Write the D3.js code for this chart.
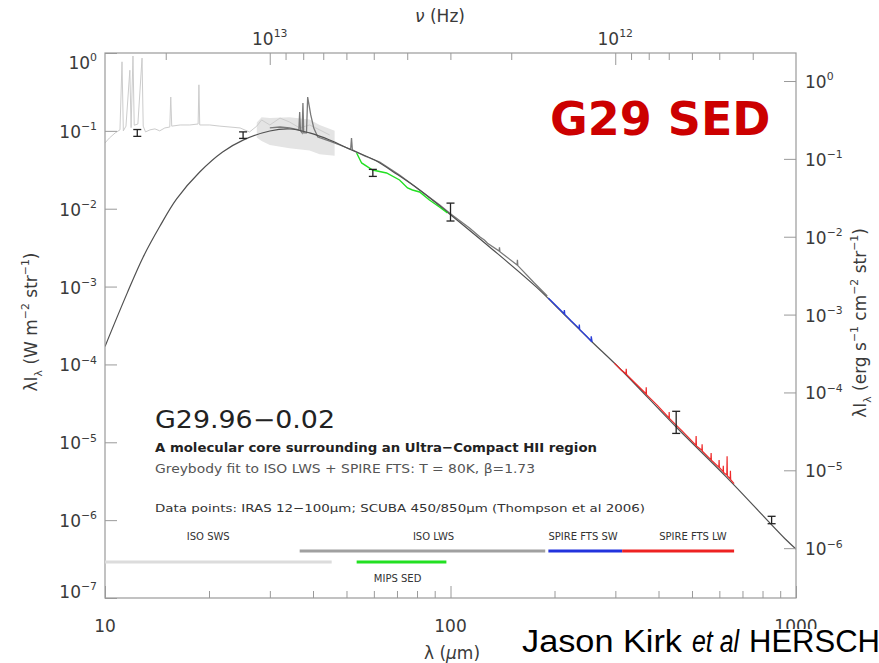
<!DOCTYPE html>
<html>
<head>
<meta charset="utf-8">
<script src="https://cdn.jsdelivr.net/npm/d3@7"></script>
<style>
  body { margin: 0; background: #fff; }
  svg text { font-family: "DejaVu Sans", sans-serif; }
</style>
</head>
<body>
<div id="chart"></div>
<script>
// ---- values (lambda in um, lambda*I_lambda in W m^-2 sr^-1)
const wavelengthMajor = [10, 100, 1000];
const wavelengthMinor = [20, 30, 40, 50, 60, 70, 80, 90, 200, 300, 400, 500, 600, 700, 800, 900];
const frequencyMajor = [1e13, 1e12];
const frequencyMinor = [2e13, 9e12, 8e12, 7e12, 6e12, 5e12, 4e12, 3e12, 2e12, 9e11, 8e11, 7e11, 6e11, 5e11, 4e11];
const fluxTicksLeft = [1e0, 1e-1, 1e-2, 1e-3, 1e-4, 1e-5, 1e-6, 1e-7];
const fluxTicksRight = [1e0, 1e-1, 1e-2, 1e-3, 1e-4, 1e-5, 1e-6];

const greybodyFit = [
  [10.0, 1.7e-4], [11.6, 8.3e-4], [12.9, 2.4e-3], [14.4, 5.9e-3], [16.1, 1.33e-2],
  [18.8, 2.96e-2], [21.9, 5.35e-2], [25.1, 7.6e-2], [30.0, 9.96e-2], [34.3, 0.1057],
  [39.1, 0.094], [44.7, 0.0763], [51.7, 0.0568], [60.3, 0.0422], [69.8, 0.0279],
  [81.4, 0.0174], [99.4, 8.55e-3], [130, 3.2e-3], [177, 9.9e-4], [211, 4.6e-4],
  [257, 1.94e-4], [308, 9.0e-5], [450, 1.57e-5], [628, 3.6e-6], [936, 5.6e-7], [1000, 4.26e-7]
];

const isoSws = [
  [10.0, 0.070], [10.3, 0.081], [10.7, 0.094], [11.05, 0.103], [11.2, 0.77], [11.3, 0.100],
  [11.5, 0.115], [11.8, 0.60], [11.9, 0.110], [12.05, 0.915], [12.15, 0.118], [12.45, 0.1225],
  [12.8, 0.86], [12.9, 0.115], [13.1, 0.097], [13.5, 0.103], [13.95, 0.106], [14.4, 0.100],
  [14.9, 0.109], [15.4, 0.112], [15.5, 0.272], [15.6, 0.115], [16.5, 0.119], [17.6, 0.119],
  [18.6, 0.1225], [18.7, 0.39], [18.8, 0.119], [20.1, 0.119], [21.5, 0.115], [23.0, 0.112],
  [24.6, 0.109], [26.2, 0.0967], [27.5, 0.115], [28.4, 0.138], [30.0, 0.119], [32.1, 0.146],
  [34.2, 0.130], [36.6, 0.109], [39.1, 0.119], [41.8, 0.103], [44.7, 0.0885]
];
// [lambda, low, high] of the noisy grey band
const isoSwsBand = [
  [27.5, 0.082, 0.128], [28.4, 0.074, 0.150], [30.0, 0.066, 0.146], [34.2, 0.060, 0.150],
  [39.1, 0.056, 0.140], [41.8, 0.050, 0.119], [46.2, 0.048, 0.100]
];

const isoLws = [
  [30.0, 0.109], [32.1, 0.112], [34.2, 0.109], [36.4, 0.1026], [36.6, 0.175], [36.8, 0.100],
  [37.2, 0.094], [37.4, 0.228], [37.6, 0.094], [38.3, 0.094], [38.6, 0.272], [39.4, 0.160],
  [40.2, 0.109], [41.3, 0.0834], [44.7, 0.074], [47.8, 0.0658], [51.4, 0.058], [51.7, 0.081],
  [52.0, 0.057], [56.4, 0.0475], [62.4, 0.0398], [71.2, 0.0271], [81.4, 0.0174], [92.9, 0.0112],
  [100, 0.0086], [113.5, 5.65e-3], [122, 4.3e-3], [125.3, 3.96e-3], [128, 3.6e-3], [138.3, 2.86e-3],
  [138.6, 3.2e-3], [139, 2.8e-3], [155.9, 1.89e-3], [156.2, 2.2e-3], [156.6, 1.86e-3],
  [174.9, 1.11e-3], [190.6, 7.56e-4]
];

const mipsSed = [
  [53.5, 0.052], [55.3, 0.0387], [59.5, 0.0314], [65.3, 0.0288], [71.2, 0.0234], [75.1, 0.01846],
  [77.6, 0.0174], [81.4, 0.0164], [86.9, 0.01294], [92.9, 0.01052], [98.0, 8.81e-3]
];

const spireSw = [
  [191.9, 7.13e-4], [201.2, 5.80e-4], [213.0, 4.5e-4], [213.6, 5.0e-4], [214.2, 4.4e-4],
  [223.7, 3.61e-4], [235.5, 2.9e-4], [236, 3.25e-4], [236.5, 2.82e-4], [248.9, 2.25e-4],
  [255, 2.0e-4], [255.5, 2.3e-4], [257, 1.94e-4]
];

const spireLw = [
  [297.8, 1.04e-4], [312, 8.48e-5], [322, 7.6e-5], [322.6, 8.8e-5], [323.2, 7.45e-5],
  [340.4, 5.9e-5], [368, 4.2e-5], [368.6, 5.1e-5], [369.2, 4.1e-5], [396.3, 3.0e-5],
  [429, 2.05e-5], [429.5, 2.45e-5], [430, 2.03e-5], [468.1, 1.4e-5], [513, 9.2e-6],
  [514, 1.2e-5], [515, 9.0e-6], [534, 7.9e-6], [534.9, 9.4e-6], [535.8, 7.7e-6],
  [567, 6.0e-6], [568, 7.3e-6], [569, 5.9e-6], [598, 4.8e-6], [599, 5.9e-6], [600, 4.75e-6],
  [615, 4.2e-6], [616, 5.0e-6], [617, 4.1e-6],
  [630.5, 3.8e-6], [631.8, 6.6e-6], [633, 3.7e-6], [645, 3.4e-6], [646, 4.3e-6], [647, 3.3e-6], [662, 2.95e-6]
];

// IRAS 12/25/60/100 um, SCUBA 450/850 um
const photometry = [
  { lambda: 12.4, value: 0.094, lo: 0.085, hi: 0.104 },
  { lambda: 25.1, value: 0.088, lo: 0.080, hi: 0.097 },
  { lambda: 59.6, value: 0.029, lo: 0.026, hi: 0.032 },
  { lambda: 100, value: 0.0091, lo: 0.00695, hi: 0.0118 },
  { lambda: 450, value: 1.8e-5, lo: 1.3e-5, hi: 2.5e-5 },
  { lambda: 850, value: 1.0e-6, lo: 0.90e-6, hi: 1.12e-6 }
];

const instruments = ["ISO SWS", "ISO LWS", "SPIRE FTS SW", "SPIRE FTS LW", "MIPS SED"];
const coverageFrom = [10, 36.6, 192, 314, 53.5];
const coverageTo = [45.3, 188, 314, 662, 97.3];

// ---- layout / style
const instrumentStyle = {
  "ISO SWS": { color: "#dcdcdc", row: 1, labelAt: 19.9, labelRow: 0 },
  "ISO LWS": { color: "#a0a0a0", row: 0, labelAt: 89.3, labelRow: 0 },
  "SPIRE FTS SW": { color: "#2233dd", row: 0, labelAt: 242, labelRow: 0 },
  "SPIRE FTS LW": { color: "#ee2222", row: 0, labelAt: 503, labelRow: 0 },
  "MIPS SED": { color: "#22e022", row: 1, labelAt: 70.3, labelRow: 1 }
};

const C_UM = 2.998e14; // c in um/s

class SedGraph {
  constructor(graphId) {
    this.graph = "#" + graphId;
    this.size = { width: 879, height: 663 };
    this.frame = { left: 105, right: 796, top: 53, bottom: 598 };
    this.scale = {};
    this.tick = { major: 12, minor: 7, color: "#9a9a9a" };
  }

  initialize() {
    this.createSvg();
    this.createScales();
    this.createAxis();
    this.replot();
    this.drawAnnotations();
  }

  createSvg() {
    this.svg = d3.select(this.graph).append("svg")
      .attr("width", this.size.width)
      .attr("height", this.size.height);
    const { left, right, top, bottom } = this.frame;
    this.svg.append("defs").append("clipPath").attr("id", "plotClip")
      .append("rect")
      .attr("x", left).attr("y", top)
      .attr("width", right - left).attr("height", bottom - top);
    this.canvas = this.svg.append("g").attr("clip-path", "url(#plotClip)");
  }

  createScales() {
    const { left, right, top, bottom } = this.frame;
    this.scale.x = d3.scaleLog().domain([10, 1000]).range([left, right]);
    this.scale.nu = d3.scaleLog().domain([C_UM / 10, C_UM / 1000]).range([left, right]);
    this.scale.y = d3.scaleLog().domain([1e-7, 1]).range([bottom, top]);
    // right hand axis is offset from the left one in the original plot
    this.scale.yRight = d3.scaleLog().domain([2.29e-7, 2.29]).range([bottom, top]);
  }

  static powerText(sel, exp, size) {
    SedGraph.richText(sel, [{ t: "10" }, { t: exp, sup: true }], size);
  }

  static richText(sel, parts, size) {
    let shift = 0;
    parts.forEach(p => {
      const target = p.sup ? -0.45 * size : p.sub ? 0.28 * size : 0;
      const ts = sel.append("tspan").attr("dy", target - shift).text(p.t);
      if (p.sup || p.sub) ts.attr("font-size", size * 0.64);
      if (p.italic) ts.attr("font-style", "italic");
      shift = target;
    });
  }

  styleAxis(g) {
    g.select(".domain").remove();
    g.selectAll(".tick line").attr("stroke", this.tick.color).attr("stroke-width", 1);
  }

  createAxis() {
    const { left, right, top, bottom } = this.frame;
    const { x, nu, y, yRight } = this.scale;
    const svg = this.svg;
    const { major, minor } = this.tick;

    svg.append("rect")
      .attr("x", left).attr("y", top)
      .attr("width", right - left).attr("height", bottom - top)
      .attr("fill", "none").attr("stroke", "#9a9a9a").attr("stroke-width", 1.2);

    svg.append("g").attr("transform", `translate(0,${bottom})`)
      .call(d3.axisBottom(x).tickValues(wavelengthMajor).tickSize(-major).tickFormat(""))
      .call(g => this.styleAxis(g));
    svg.append("g").attr("transform", `translate(0,${bottom})`)
      .call(d3.axisBottom(x).tickValues(wavelengthMinor).tickSize(-minor).tickFormat(""))
      .call(g => this.styleAxis(g));
    svg.append("g").attr("transform", `translate(0,${top})`)
      .call(d3.axisTop(nu).tickValues(frequencyMajor).tickSize(-major).tickFormat(""))
      .call(g => this.styleAxis(g));
    svg.append("g").attr("transform", `translate(0,${top})`)
      .call(d3.axisTop(nu).tickValues(frequencyMinor).tickSize(-minor).tickFormat(""))
      .call(g => this.styleAxis(g));
    svg.append("g").attr("transform", `translate(${left},0)`)
      .call(d3.axisLeft(y).tickValues(fluxTicksLeft).tickSize(-major).tickFormat(""))
      .call(g => this.styleAxis(g));
    svg.append("g").attr("transform", `translate(${right},0)`)
      .call(d3.axisRight(yRight).tickValues(fluxTicksRight).tickSize(-major).tickFormat(""))
      .call(g => this.styleAxis(g));

    const labelColor = "#3a3a3a";
    const fs = 17;

    // bottom wavelength labels
    wavelengthMajor.forEach(v => {
      svg.append("text")
        .attr("x", x(v)).attr("y", 632)
        .attr("text-anchor", "middle").attr("font-size", fs).attr("fill", labelColor)
        .text(v);
    });
    // top frequency labels
    frequencyMajor.forEach(v => {
      const t = svg.append("text")
        .attr("x", nu(v)).attr("y", 45)
        .attr("text-anchor", "middle").attr("font-size", fs).attr("fill", labelColor);
      SedGraph.powerText(t, String(Math.round(Math.log10(v))), fs);
    });
    // left flux labels
    fluxTicksLeft.forEach(v => {
      const e = Math.round(Math.log10(v));
      const cy = Math.min(Math.max(y(v), 62), 591);
      const t = svg.append("text")
        .attr("x", left - 8).attr("y", cy + 7)
        .attr("text-anchor", "end").attr("font-size", fs).attr("fill", labelColor);
      SedGraph.powerText(t, e === 0 ? "0" : "\u2212" + Math.abs(e), fs);
    });
    // right flux labels
    fluxTicksRight.forEach(v => {
      const e = Math.round(Math.log10(v));
      const t = svg.append("text")
        .attr("x", right + 9).attr("y", yRight(v) + 7)
        .attr("text-anchor", "start").attr("font-size", fs).attr("fill", labelColor);
      SedGraph.powerText(t, e === 0 ? "0" : "\u2212" + Math.abs(e), fs);
    });

    // axis titles
    const leftTitle = svg.append("text")
      .attr("transform", "translate(37,322) rotate(-90)")
      .attr("text-anchor", "middle").attr("font-size", 17).attr("fill", labelColor);
    SedGraph.richText(leftTitle, [
      { t: "\u03bbI" }, { t: "\u03bb", sub: true }, { t: " (W m" }, { t: "\u22122", sup: true },
      { t: " str" }, { t: "\u22121", sup: true }, { t: ")" }
    ], 17);

    const rightTitle = svg.append("text")
      .attr("transform", "translate(866,323) rotate(-90)")
      .attr("text-anchor", "middle").attr("font-size", 17).attr("fill", labelColor);
    SedGraph.richText(rightTitle, [
      { t: "\u03bbI" }, { t: "\u03bb", sub: true }, { t: " (erg s" }, { t: "\u22121", sup: true },
      { t: " cm" }, { t: "\u22122", sup: true }, { t: " str" }, { t: "\u22121", sup: true }, { t: ")" }
    ], 17);

    const topTitle = svg.append("text")
      .attr("x", 440).attr("y", 22)
      .attr("text-anchor", "middle").attr("font-size", 17).attr("fill", labelColor);
    SedGraph.richText(topTitle, [{ t: "\u03bd", italic: true }, { t: " (Hz)" }], 17);

    const bottomTitle = svg.append("text")
      .attr("x", 452).attr("y", 659)
      .attr("text-anchor", "middle").attr("font-size", 17).attr("fill", labelColor);
    SedGraph.richText(bottomTitle, [{ t: "\u03bb (" }, { t: "\u03bc", italic: true }, { t: "m)" }], 17);
  }

  replot() {
    const { x, y } = this.scale;
    const canvas = this.canvas;
    const line = d3.line().x(d => x(d[0])).y(d => y(d[1]));
    const band = d3.area().x(d => x(d[0])).y0(d => y(d[1])).y1(d => y(d[2]));

    canvas.append("path").attr("d", band(isoSwsBand)).attr("fill", "#e4e4e4").attr("stroke", "none");
    canvas.append("path").attr("d", line(isoSws))
      .attr("fill", "none").attr("stroke", "#cccccc").attr("stroke-width", 1);
    canvas.append("path").attr("d", line(isoLws))
      .attr("fill", "none").attr("stroke", "#7a7a7a").attr("stroke-width", 1.3);
    canvas.append("path").attr("d", line.curve(d3.curveCatmullRom)(greybodyFit))
      .attr("fill", "none").attr("stroke", "#505050").attr("stroke-width", 1.2);
    line.curve(d3.curveLinear);
    canvas.append("path").attr("d", line(mipsSed))
      .attr("fill", "none").attr("stroke", "#22e022").attr("stroke-width", 1.4);
    canvas.append("path").attr("d", line(spireSw))
      .attr("fill", "none").attr("stroke", "#2b3fd8").attr("stroke-width", 1.3);
    canvas.append("path").attr("d", line(spireLw))
      .attr("fill", "none").attr("stroke", "#ee2a2a").attr("stroke-width", 1.2);

    // error bars
    const bars = canvas.selectAll("g.errbar").data(photometry).enter()
      .append("g").attr("class", "errbar")
      .attr("stroke", "#222").attr("stroke-width", 1.3);
    bars.append("line")
      .attr("x1", d => x(d.lambda)).attr("x2", d => x(d.lambda))
      .attr("y1", d => y(d.hi)).attr("y2", d => y(d.lo));
    ["hi", "lo"].forEach(k => {
      bars.append("line")
        .attr("x1", d => x(d.lambda) - 4).attr("x2", d => x(d.lambda) + 4)
        .attr("y1", d => y(d[k])).attr("y2", d => y(d[k]));
    });

    // instrument coverage bars
    const rowY = [551, 562];
    const labelY = [540, 582];
    instruments.forEach((name, i) => {
      const s = instrumentStyle[name];
      this.svg.append("line")
        .attr("x1", x(coverageFrom[i])).attr("x2", x(coverageTo[i]))
        .attr("y1", rowY[s.row]).attr("y2", rowY[s.row])
        .attr("stroke", s.color).attr("stroke-width", 3);
      this.svg.append("text")
        .attr("x", x(s.labelAt)).attr("y", labelY[s.labelRow])
        .attr("text-anchor", "middle").attr("font-size", 10).attr("fill", "#333")
        .text(name);
    });
  }

  drawAnnotations() {
    const svg = this.svg;
    svg.append("text")
      .attr("x", 550).attr("y", 135)
      .attr("font-size", 46).attr("font-weight", "bold").attr("fill", "#cc0000")
      .text("G29 SED");

    const lines = [
      { t: "G29.96\u22120.02", y: 428, size: 24, w: 180, color: "#222", weight: "normal" },
      { t: "A molecular core surrounding an Ultra\u2212Compact HII region", y: 452, size: 13, w: 442, color: "#222", weight: "bold" },
      { t: "Greybody fit to ISO LWS + SPIRE FTS: T = 80K, \u03b2=1.73", y: 473, size: 13, w: 380, color: "#555", weight: "normal" },
      { t: "Data points: IRAS 12\u2212100\u03bcm; SCUBA 450/850\u03bcm (Thompson et al 2006)", y: 512, size: 11, w: 490, color: "#333", weight: "normal" }
    ];
    lines.forEach(l => {
      svg.append("text")
        .attr("x", 155).attr("y", l.y)
        .attr("font-size", l.size).attr("font-weight", l.weight).attr("fill", l.color)
        .attr("textLength", l.w).attr("lengthAdjust", "spacingAndGlyphs")
        .text(l.t);
    });

    // credit line, partly running off the right edge as in the original slide
    const creditFont = "'Liberation Sans', Arial, sans-serif";
    svg.append("rect").attr("x", 515).attr("y", 629).attr("width", 364).attr("height", 34).attr("fill", "#fff");
    const credit = [
      { t: "Jason Kirk", x: 522, w: 160, italic: false },
      { t: "et al", x: 692, w: 47, italic: true },
      { t: "HERSCHEL", x: 749, w: null, italic: false }
    ];
    credit.forEach(c => {
      const t = svg.append("text")
        .attr("x", c.x).attr("y", 652)
        .attr("font-size", 31).attr("fill", "#000")
        .attr("font-style", c.italic ? "italic" : "normal")
        .style("font-family", creditFont)
        .text(c.t);
      if (c.w) t.attr("textLength", c.w).attr("lengthAdjust", "spacingAndGlyphs");
    });
  }
}

new SedGraph("chart").initialize();
</script>
</body>
</html>
